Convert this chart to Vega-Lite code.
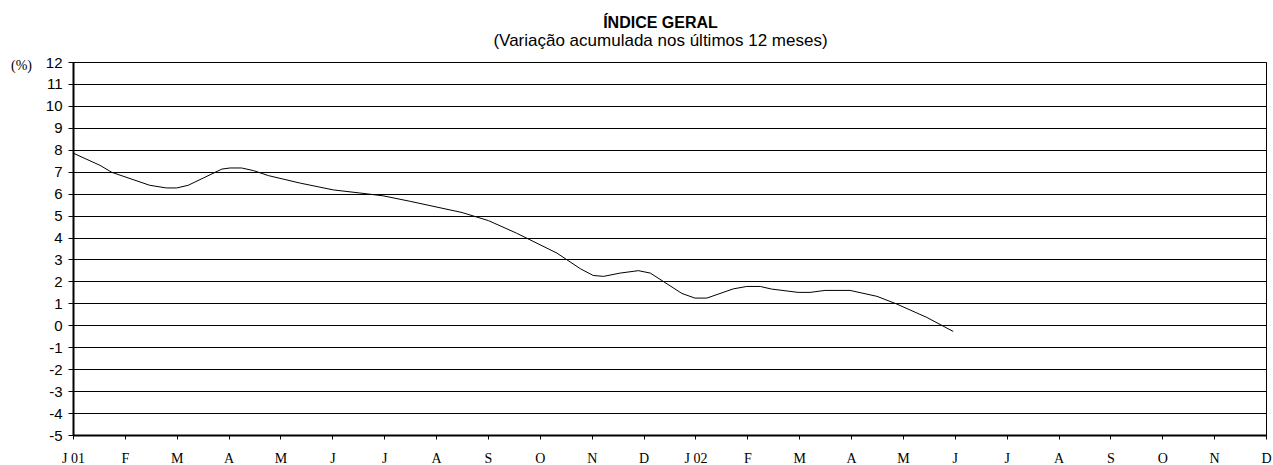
{
  "$schema": "https://vega.github.io/schema/vega-lite/v6.json",
  "width": 1193,
  "height": 373,
  "autosize": {"type": "none"},
  "padding": {"left": 73, "top": 62, "right": 7, "bottom": 30},
  "background": "white",
  "title": {
    "text": "ÍNDICE GERAL",
    "subtitle": "(Variação acumulada nos últimos 12 meses)",
    "font": "Liberation Sans",
    "fontSize": 16,
    "fontWeight": "bold",
    "subtitleFont": "Liberation Sans",
    "subtitleFontSize": 17,
    "subtitleColor": "black",
    "subtitlePadding": 2,
    "color": "black",
    "anchor": "middle",
    "offset": 6,
    "dx": -9
  },
  "config": {
    "view": {"stroke": "black", "strokeWidth": 1},
    "axis": {"labelColor": "black", "tickColor": "black", "domainColor": "black"}
  },
  "data": {
    "values": [
      {"m": 0.00, "v": 7.85},
      {"m": 0.52, "v": 7.29},
      {"m": 0.75, "v": 6.97},
      {"m": 1.48, "v": 6.38},
      {"m": 1.80, "v": 6.26},
      {"m": 2.00, "v": 6.26},
      {"m": 2.22, "v": 6.38},
      {"m": 2.51, "v": 6.71},
      {"m": 2.87, "v": 7.12},
      {"m": 3.03, "v": 7.17},
      {"m": 3.25, "v": 7.17},
      {"m": 3.48, "v": 7.05},
      {"m": 3.77, "v": 6.82},
      {"m": 4.38, "v": 6.48},
      {"m": 5.02, "v": 6.17},
      {"m": 5.53, "v": 6.03},
      {"m": 5.98, "v": 5.90},
      {"m": 6.50, "v": 5.65},
      {"m": 7.50, "v": 5.14},
      {"m": 8.01, "v": 4.77},
      {"m": 8.55, "v": 4.20},
      {"m": 9.33, "v": 3.29},
      {"m": 9.78, "v": 2.58},
      {"m": 10.03, "v": 2.27},
      {"m": 10.23, "v": 2.23},
      {"m": 10.55, "v": 2.38},
      {"m": 10.90, "v": 2.49},
      {"m": 11.13, "v": 2.38},
      {"m": 11.38, "v": 2.00},
      {"m": 11.74, "v": 1.45},
      {"m": 11.99, "v": 1.24},
      {"m": 12.22, "v": 1.24},
      {"m": 12.73, "v": 1.66},
      {"m": 12.99, "v": 1.77},
      {"m": 13.25, "v": 1.77},
      {"m": 13.47, "v": 1.65},
      {"m": 13.98, "v": 1.50},
      {"m": 14.21, "v": 1.50},
      {"m": 14.50, "v": 1.59},
      {"m": 14.98, "v": 1.59},
      {"m": 15.50, "v": 1.32},
      {"m": 15.88, "v": 0.97},
      {"m": 16.46, "v": 0.36},
      {"m": 16.97, "v": -0.28}
    ]
  },
  "mark": {"type": "line", "color": "black", "strokeWidth": 1, "interpolate": "linear"},
  "encoding": {
    "x": {
      "field": "m",
      "type": "quantitative",
      "scale": {"domain": [0, 23], "nice": false, "zero": false},
      "axis": {
        "title": null,
        "grid": false,
        "values": [0,1,2,3,4,5,6,7,8,9,10,11,12,13,14,15,16,17,18,19,20,21,22,23],
        "labelExpr": "['J 01','F','M','A','M','J','J','A','S','O','N','D','J 02','F','M','A','M','J','J','A','S','O','N','D'][datum.value]",
        "labelFont": "Liberation Serif",
        "labelFontSize": 14,
        "labelFlush": false,
        "labelOverlap": false,
        "labelBound": false,
        "tickSize": 4,
        "labelPadding": 12,
        "domainWidth": 2,
        "tickWidth": 1
      }
    },
    "y": {
      "field": "v",
      "type": "quantitative",
      "scale": {"domain": [-5, 12], "nice": false, "zero": false},
      "axis": {
        "title": "(%)",
        "titleFont": "Liberation Serif",
        "titleFontSize": 14,
        "titleFontWeight": "normal",
        "titleColor": "black",
        "titleAngle": 0,
        "titleX": -52,
        "titleY": 3,
        "titleAlign": "center",
        "titleBaseline": "middle",
        "values": [-5,-4,-3,-2,-1,0,1,2,3,4,5,6,7,8,9,10,11,12],
        "labelExpr": "'' + datum.value",
        "labelFont": "Liberation Sans",
        "labelFontSize": 15,
        "labelOverlap": false,
        "labelFlush": false,
        "labelBound": false,
        "grid": true,
        "gridColor": "black",
        "gridOpacity": 1,
        "gridWidth": 1,
        "tickSize": 5,
        "labelPadding": 6,
        "domainWidth": 2
      }
    }
  }
}
